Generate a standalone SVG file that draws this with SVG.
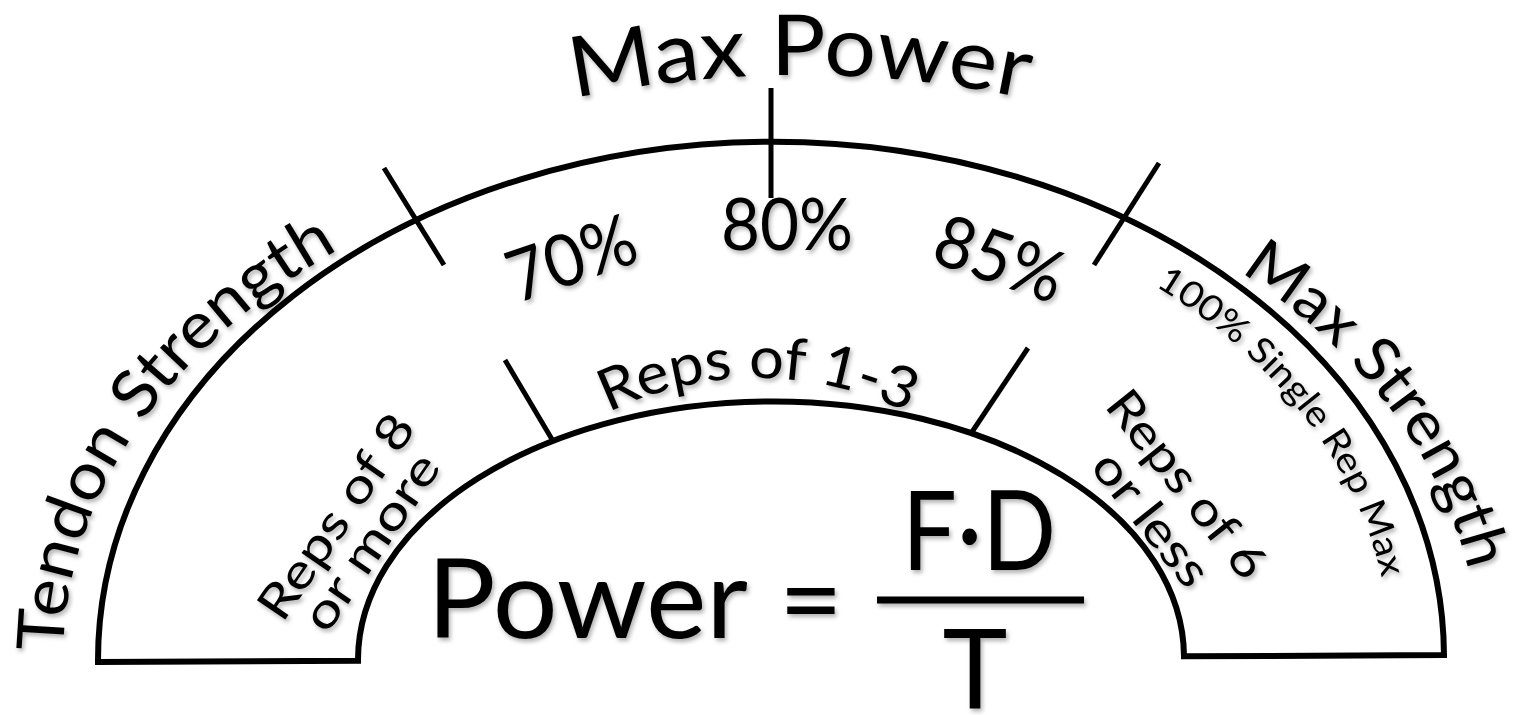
<svg xmlns="http://www.w3.org/2000/svg" width="1514" height="715" viewBox="0 0 1514 715">
<style>
.t{font-family:Lato,"Liberation Sans",sans-serif;fill:#000}
.ln{stroke:#000;fill:none;stroke-linecap:butt}
</style>
<defs>
<filter id="sh" x="-20%" y="-20%" width="140%" height="140%">
<feDropShadow dx="2" dy="3" stdDeviation="2" flood-color="#000" flood-opacity="0.3"/>
</filter>
<path id="pMaxPower" d="M 500 116.7 A 1100 1100 0 0 1 1100 116.7"/>
<path id="pTendon" d="M 63.1 651.9 A 708 518 0 0 1 364.9 235.7"/>
<path id="pMaxStr" d="M 1240 272 A 708 518 0 0 1 1470.3 579"/>
<path id="pSingle" d="M 1155 285.9 A 620 476 0 0 1 1386.4 602"/>
<path id="pReps13" d="M 558 443 A 340 340 0 0 1 958 443"/>
</defs>
<rect width="1514" height="715" fill="#fff"/>

<g id="arch">
<path class="ln" stroke-width="6" stroke-linejoin="miter" transform="rotate(-0.3 771 658.5)" d="M 98 658.5 A 673 517 0 0 1 1444 658.5 L 1184 658.5 A 413 257 0 0 0 358 658.5 Z"/>
</g>

<g id="connectors" class="ln" stroke-width="5">
<line x1="771" y1="88" x2="771" y2="198"/>
<line x1="384" y1="168" x2="444" y2="265"/>
<line x1="1159" y1="163" x2="1094" y2="265"/>
<line x1="505" y1="360" x2="553" y2="441"/>
<line x1="1028" y1="348" x2="970" y2="435"/>
</g>

<g filter="url(#sh)">
<g id="max-power"><text class="t" font-size="84"><textPath href="#pMaxPower" startOffset="50%" text-anchor="middle" textLength="455" lengthAdjust="spacingAndGlyphs">Max Power</textPath></text></g>
<g id="tendon-strength"><text class="t" font-size="65"><textPath href="#pTendon" textLength="510" lengthAdjust="spacingAndGlyphs">Tendon Strength</textPath></text></g>
<g id="max-strength"><text class="t" font-size="62"><textPath href="#pMaxStr" textLength="385" lengthAdjust="spacingAndGlyphs">Max Strength</textPath></text></g>
<g id="single-rep"><text class="t" font-size="36"><textPath href="#pSingle" textLength="380" lengthAdjust="spacingAndGlyphs">100% Single Rep Max</textPath></text></g>
<g id="p70"><text class="t" font-size="72" text-anchor="middle" textLength="132" lengthAdjust="spacingAndGlyphs" transform="translate(579.5 282) rotate(-19)">70%</text></g>
<g id="p80"><text class="t" font-size="72" text-anchor="middle" textLength="132" lengthAdjust="spacingAndGlyphs" x="787" y="250">80%</text></g>
<g id="p85"><text class="t" font-size="72" text-anchor="middle" textLength="132" lengthAdjust="spacingAndGlyphs" transform="translate(991.5 282.6) rotate(19)">85%</text></g>
<g id="reps-1-3"><text class="t" font-size="58"><textPath href="#pReps13" startOffset="50%" text-anchor="middle" textLength="310" lengthAdjust="spacingAndGlyphs">Reps of 1-3</textPath></text></g>
<g id="reps-8">
<text class="t" font-size="48" text-anchor="middle" textLength="238" lengthAdjust="spacingAndGlyphs" transform="translate(349.7 525.9) rotate(-55.5)">Reps of 8</text>
<text class="t" font-size="48" text-anchor="middle" textLength="204" lengthAdjust="spacingAndGlyphs" transform="translate(384.5 551.2) rotate(-55.5)">or more</text>
</g>
<g id="reps-6">
<text class="t" font-size="48" text-anchor="middle" textLength="226" lengthAdjust="spacingAndGlyphs" transform="translate(1173.8 494.5) rotate(51.5)">Reps of 6</text>
<text class="t" font-size="48" text-anchor="middle" textLength="158" lengthAdjust="spacingAndGlyphs" transform="translate(1138.3 529.2) rotate(51.5)">or less</text>
</g>
<g id="formula">
<text class="t" font-size="110" x="427" y="638" textLength="321" lengthAdjust="spacingAndGlyphs">Power</text>
<text class="t" font-size="110" x="811" y="638" text-anchor="middle">=</text>
<text class="t" font-size="110" x="979" y="570" text-anchor="middle" textLength="154" lengthAdjust="spacingAndGlyphs">F·D</text>
<line class="ln" stroke-width="7" x1="877" y1="600" x2="1084" y2="600"/>
<text class="t" font-size="110" x="975" y="708" text-anchor="middle">T</text>
</g>
</g>
</svg>
